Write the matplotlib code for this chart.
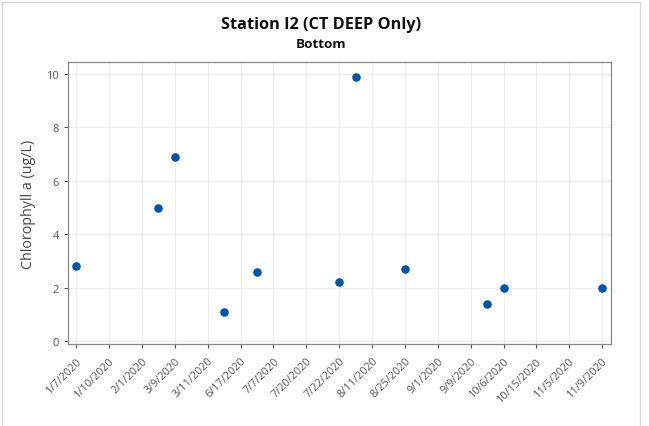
import matplotlib
matplotlib.use("Agg")
import matplotlib.pyplot as plt
from matplotlib.lines import Line2D

plt.rcParams['font.family'] = ['Open Sans', 'DejaVu Sans']

# Sampling dates shown along the x axis
tick_labels = ["1/7/2020", "1/10/2020", "2/1/2020", "3/9/2020", "3/11/2020",
               "6/17/2020", "7/7/2020", "7/20/2020", "7/22/2020", "8/11/2020",
               "8/25/2020", "9/1/2020", "9/9/2020", "10/6/2020", "10/15/2020",
               "11/5/2020", "11/9/2020"]

# Position of each bottom sample on the date axis and its chlorophyll value
sample_pos = [0, 2.5, 3, 4.5, 5.5, 8, 8.5, 10, 12.5, 13, 16]
chl_a = [2.8, 5.0, 6.9, 1.1, 2.6, 2.2, 9.9, 2.7, 1.4, 2.0, 2.0]

fig = plt.figure(figsize=(6.49, 4.27), dpi=100)
ax = fig.add_axes([68 / 649, 1 - 345 / 427, (611 - 68) / 649, (345 - 63) / 427])

ax.scatter(sample_pos, chl_a, s=38, color="#0055a5", zorder=3, linewidths=0)

ax.set_xlim(-0.25, 16.27)
ax.set_ylim(-0.11, 10.45)
ax.set_xticks(range(len(tick_labels)))
ax.set_xticklabels(tick_labels, rotation=45, ha="right", rotation_mode="anchor",
                   fontsize=7.8, color="#111111")
ax.set_yticks([0, 2, 4, 6, 8, 10])
ax.tick_params(axis="y", labelsize=8, labelcolor="#111111")
ax.tick_params(colors="#555555", length=3, width=0.8)
ax.tick_params(axis="x", pad=5)

ax.grid(True, color="#eeeeee", linewidth=0.8)
ax.set_axisbelow(True)
for sp in ax.spines.values():
    sp.set_color("#888888")
    sp.set_linewidth(0.9)

ax.set_ylabel("Chlorophyll a (ug/L)", fontsize=10.3, color="#444444", labelpad=7)

fig.text(321 / 649, 1 - 25 / 427, "Station I2 (CT DEEP Only)", ha="center",
         va="center", fontsize=11.7, fontweight="bold", color="#111111")
fig.text(321 / 649, 1 - 45 / 427, "Bottom", ha="center", va="center",
         fontsize=9.7, fontweight="bold", color="#111111")

# light frame around the graph area
frame_kw = dict(color="#d9d9d9", linewidth=1, transform=fig.transFigure)
fig.add_artist(Line2D([2 / 649, 640 / 649], [1 - 3 / 427, 1 - 3 / 427], **frame_kw))
fig.add_artist(Line2D([2 / 649, 2 / 649], [0, 1 - 3 / 427], **frame_kw))
fig.add_artist(Line2D([640 / 649, 640 / 649], [0, 1 - 3 / 427], **frame_kw))

fig.savefig("out.png", dpi=100)
